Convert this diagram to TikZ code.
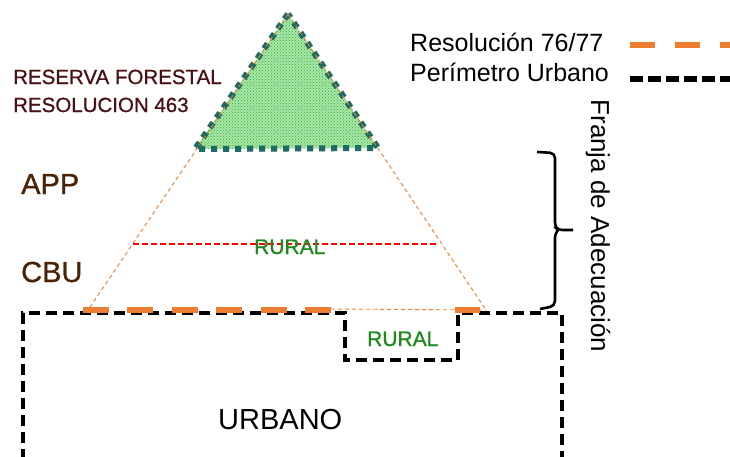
\documentclass[tikz,border=0pt]{standalone}
\usepackage{fontspec}
\setmainfont{Liberation Sans}
\newfontfamily\heavyfont[FakeBold=0.9]{Liberation Sans}
\usetikzlibrary{patterns}
\definecolor{orng}{HTML}{ED7D31}
\definecolor{teal2}{HTML}{1F6B63}
\definecolor{maroon2}{HTML}{4A1014}
\definecolor{brwn}{HTML}{4A2206}
\definecolor{grn}{HTML}{1E8A1E}
\definecolor{lgrn}{HTML}{A6E6A6}
\definecolor{mgrn}{HTML}{3CB03C}
\tikzset{
  perim/.style={line width=3.8pt, dash pattern=on 11pt off 6pt},
  resol/.style={orng, line width=6pt, dash pattern=on 26pt off 18.4pt},
  thinor/.style={orng, line width=0.9pt, dash pattern=on 4pt off 3pt},
  lbl/.style={inner sep=0pt, anchor=base west},
  fs/.style={font=\fontsize{#1}{#1}\selectfont},
  hfs/.style={font=\heavyfont\fontsize{#1}{#1}\selectfont}
}
\begin{document}
\begin{tikzpicture}[x=1pt,y=-1pt]
\useasboundingbox (0,0) rectangle (730,456);
\begin{scope}
\clip (0,0) rectangle (730,456);
% green triangle
\coordinate (apex) at (288,14);
\coordinate (bl) at (195,149);
\coordinate (br) at (378,148);
\fill[lgrn] (apex) -- (bl) -- (br) -- cycle;
\fill[pattern=crosshatch dots, pattern color=mgrn] (apex) -- (bl) -- (br) -- cycle;
\draw[gray!60, opacity=0.6, line width=6pt, dash pattern=on 6pt off 6pt, shift={(2,3)}] (apex) -- (bl) -- (br) -- cycle;
\draw[teal2, line width=6pt, dash pattern=on 6pt off 6pt] (apex) -- (bl) -- (br) -- cycle;
% thin orange sides
\coordinate (ol) at (88,310);
\coordinate (or) at (486,310);
\draw[thinor] (apex) -- (ol);
\draw[thinor] (apex) -- (or);
\coordinate (h1) at (331,309);
\draw[thinor] (h1) -- (or);
% red dashed
\coordinate (r1) at (133,244);
\coordinate (r2) at (437,244);
\draw[red, line width=1.6pt, dash pattern=on 6pt off 3pt] (r1) -- (r2);
% perimeter
\draw[perim] (23,460) -- (23,313) -- (345,313) -- (345,360) -- (458,360) -- (458,313) -- (562,313) -- (562,460);
% resolution dashes
\coordinate (a1) at (83,310);
\coordinate (a2) at (331,310);
\draw[resol] (a1) -- (a2);
\coordinate (a3) at (455,310);
\coordinate (a4) at (480,310);
\draw[orng, line width=6pt] (a3) -- (a4);
% brace
\draw[line width=2.6pt, rounded corners=5pt] (537,152) -- (555,153) -- (555,227) -- (558,230) -- (573,230);
\draw[line width=2.6pt, rounded corners=5pt] (558,230) -- (555,233) -- (555,306) -- (540,309);
% legend lines
\coordinate (lo1) at (630,45);
\coordinate (lo2) at (735,45);
\draw[orng, line width=6pt, dash pattern=on 25pt off 20pt] (lo1) -- (lo2);
\coordinate (lb1) at (630,79);
\coordinate (lb2) at (735,79);
\draw[line width=6pt, dash pattern=on 13pt off 5pt] (lb1) -- (lb2);
\end{scope}
% texts
\node[lbl, fs=25] (leg1) at (410,51) {Resolución 76/77};
\node[lbl, fs=25] (leg2) at (410,81) {Perímetro Urbano};
\node[lbl, hfs=20.5, text=maroon2] (rf1) at (13,84) {RESERVA FORESTAL};
\node[lbl, hfs=20.5, text=maroon2] (rf2) at (13,112) {RESOLUCION 463};
\node[lbl, hfs=29, text=brwn] (app) at (21,194) {APP};
\node[lbl, hfs=29, text=brwn] (cbu) at (21,282) {CBU};
\node[lbl, hfs=21, text=grn] (rur1) at (254,254) {RURAL};
\node[lbl, hfs=21, text=grn] (rur2) at (367,346) {RURAL};
\node[lbl, fs=29] (urb) at (218,429) {URBANO};
\node[fs=26, rotate=-90, inner sep=0pt] (franja) at (598,226) {Franja de Adecuación};
\end{tikzpicture}
\end{document}
